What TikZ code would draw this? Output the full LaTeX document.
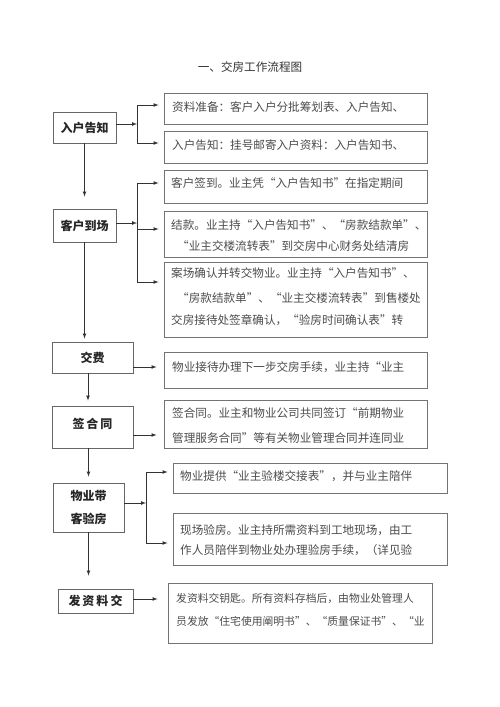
\documentclass[tikz,border=0pt]{standalone}
\usepackage{fontspec}
\newfontfamily\cjk{Noto Sans CJK SC}
\usetikzlibrary{calc}

\begin{document}
\begin{tikzpicture}[x=1pt,y=-1pt,
    lbox/.style={draw=black!60,line width=0.9pt,inner sep=0pt,
      font=\cjk\bfseries\fontsize{12}{23}\selectfont,text=black!85,align=center},
    rbox/.style={draw=black!55,line width=0.9pt,inner sep=0pt,minimum width=263},
    txt/.style={anchor=west,inner sep=0pt,font=\cjk\fontsize{11.6}{12}\selectfont,text=black!70},
    conn/.style={draw=black!80,line width=0.7pt}]
  \path[fill=white] (0,0) rectangle (500,707);

  \node[inner sep=0pt,font=\cjk\fontsize{11.6}{12}\selectfont,text=black!80] (title) at (250,67) {一、交房工作流程图};

  % left column
  \node[lbox,minimum width=63,minimum height=31] (gaozhi) at (84.5,127.5) {入户告知};
  \node[lbox,minimum width=63,minimum height=33] (daochang) at (84.5,225.5) {客户到场};
  \node[lbox,minimum width=81,minimum height=31] (jiaofei) at (92.5,357.5) {交费};
  \node[lbox,minimum width=81,minimum height=42,text depth=8pt] (hetong) at (92.5,427) {签\,合\,同};
  \node[lbox,minimum width=71,minimum height=49] (yanfang) at (88.5,507.5) {物业带\\客验房};
  \node[lbox,minimum width=75,minimum height=24] (ziliao) at (95.5,601) {发\,资\,料\,交};

  % right column
  \node[rbox,minimum height=31] (zl) at (295.5,108.5) {};
  \node[txt] (zlt) at (172,107) {资料准备：客户入户分批筹划表、入户告知、};
  \node[rbox,minimum height=32] (gh) at (295.5,147) {};
  \node[txt] (ght) at (172,145) {入户告知：挂号邮寄入户资料：入户告知书、};

  \node[rbox,minimum height=33] (qd) at (295.5,186.5) {};
  \node[txt] (qdt) at (171,183) {客户签到。业主凭“入户告知书”在指定期间};
  \node[rbox,minimum height=46] (jk) at (295.5,234) {};
  \node[txt] (jkt1) at (171,225) {结款。业主持“入户告知书”、“房款结款单”、};
  \node[txt] (jkt2) at (177,246) {“业主交楼流转表”到交房中心财务处结清房};
  \node[rbox,minimum height=75] (qr) at (295.5,299.5) {};
  \node[txt] (qrt1) at (171,273) {案场确认并转交物业。业主持“入户告知书”、};
  \node[txt] (qrt2) at (177,298) {“房款结款单”、“业主交楼流转表”到售楼处};
  \node[txt] (qrt3) at (171,320) {交房接待处签章确认，“验房时间确认表”转};

  \node[rbox,minimum height=36] (jd) at (295.5,370) {};
  \node[txt] (jdt) at (172,367) {物业接待办理下一步交房手续，业主持“业主};
  \node[rbox,minimum height=48] (qy) at (295.5,424) {};
  \node[txt] (qyt1) at (172,413) {签合同。业主和物业公司共同签订“前期物业};
  \node[txt] (qyt2) at (172,438) {管理服务合同”等有关物业管理合同并连同业};

  \node[rbox,minimum width=274,minimum height=30] (tg) at (310,478) {};
  \node[txt] (tgt) at (180,476) {物业提供“业主验楼交接表”，并与业主陪伴};
  \node[rbox,minimum width=274,minimum height=52] (xc) at (310,539) {};
  \node[txt] (xct1) at (180,530) {现场验房。业主持所需资料到工地现场，由工};
  \node[txt] (xct2) at (180,550) {作人员陪伴到物业处办理验房手续，（详见验};

  \node[rbox,minimum width=264,minimum height=60] (ys) at (300,613) {};
  \node[txt,font=\cjk\fontsize{10.8}{12}\selectfont] (yst1) at (176,598) {发资料交钥匙。所有资料存档后，由物业处管理人};
  \node[txt,font=\cjk\fontsize{10.8}{12}\selectfont] (yst2) at (176,621) {员发放“住宅使用阐明书”、“质量保证书”、“业};

  % junctions
  \coordinate (jb) at (137,124);
  \coordinate (jb1) at (137,105);
  \coordinate (jb2) at (137,143);
  \coordinate (jc) at (137,223);
  \coordinate (jc1) at (137,183);
  \coordinate (jc2) at (137,229);
  \coordinate (jc3) at (137,282);
  \coordinate (jf) at (146,503);
  \coordinate (jf1) at (146,472);
  \coordinate (jf2) at (146,543);

  % down the left
  \draw[conn,-latex,shorten >=12pt] (gaozhi.south) -- (daochang.north);
  \draw[conn,-latex,shorten >=3pt] (daochang.south) -- (daochang.south |- jiaofei.north);
  \draw[conn,-latex,shorten >=5pt] ([xshift=-4.5pt]jiaofei.south) -- ([xshift=-4.5pt]hetong.north);
  \draw[conn,-latex,shorten >=6pt] (yanfang.north |- hetong.south) -- (yanfang.north);
  \draw[conn,-latex,shorten >=13pt] (yanfang.south) -- (yanfang.south |- ziliao.north);

  % branches
  \draw[conn,-latex] (gaozhi.east |- jb) -- (jb);
  \draw[conn] (jb1) -- (jb2);
  \draw[conn,-latex,shorten >=5pt] (jb1) -- (jb1 -| zl.west);
  \draw[conn,-latex,shorten >=5pt] (jb2) -- (jb2 -| gh.west);

  \draw[conn,-latex] (daochang.east |- jc) -- (jc);
  \draw[conn] (jc1) -- (jc3);
  \draw[conn,-latex,shorten >=5pt] (jc1) -- (jc1 -| qd.west);
  \draw[conn,-latex,shorten >=5pt] (jc2) -- (jc2 -| jk.west);
  \draw[conn,-latex,shorten >=5pt] (jc3) -- (jc3 -| qr.west);

  \draw[conn,-latex,shorten >=7pt] ([yshift=-9.5pt]jiaofei.east) -- ([yshift=-9.5pt]jiaofei.east -| jd.west);
  \draw[conn,-latex,shorten >=7pt] ([yshift=-8pt]hetong.east) -- ([yshift=-8pt]hetong.east -| qy.west);

  \draw[conn,-latex] (yanfang.east |- jf) -- (jf);
  \draw[conn] (jf1) -- (jf2);
  \draw[conn,-latex,shorten >=5pt] (jf1) -- (jf1 -| tg.west);
  \draw[conn,-latex,shorten >=5pt] (jf2) -- (jf2 -| xc.west);

  \draw[conn,-latex,shorten >=10pt] ([yshift=2pt]ziliao.east) -- ([yshift=2pt]ziliao.east -| ys.west);
\end{tikzpicture}
\end{document}
